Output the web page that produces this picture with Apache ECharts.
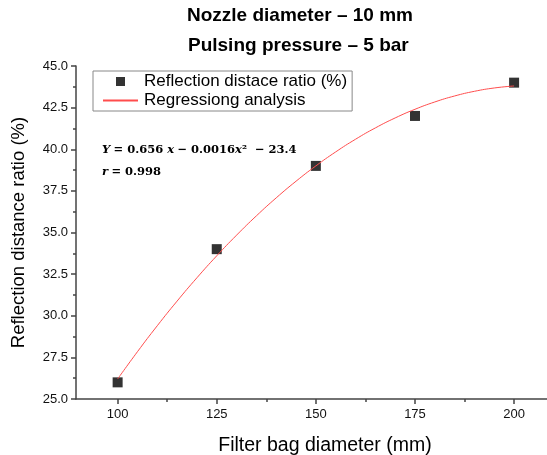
<!DOCTYPE html>
<html>
<head>
<meta charset="utf-8">
<script src="https://cdn.jsdelivr.net/npm/echarts@6/dist/echarts.min.js"></script>
<style>
  html, body { margin: 0; padding: 0; background: #fff; }
  #chart { width: 547px; height: 455px; }
</style>
</head>
<body>
<div id="chart"></div>
<script>
// measured points
var bagDiameter = [100, 125, 150, 175, 200];
var reflectionRatio = [26, 34, 39, 42, 44];

// regression curve
var fitX = [100, 105, 110, 115, 120, 125, 130, 135, 140, 145, 150,
            155, 160, 165, 170, 175, 180, 185, 190, 195, 200];
var fitY = [26.2, 27.84, 29.4, 30.88, 32.28, 33.6, 34.84, 36.0, 37.08, 38.08, 39.0,
            39.84, 40.6, 41.28, 41.88, 42.4, 42.84, 43.2, 43.48, 43.68, 43.8];

var xLabels = [100, 125, 150, 175, 200];
var xMinorTicks = [112.5, 137.5, 162.5, 187.5];

var font = 'Liberation Sans, Arial, sans-serif';
var serif = 'DejaVu Serif, serif';
var chart = echarts.init(document.getElementById('chart'));

var tickStyle = { color: '#444', width: 1.5 };
var eqRich = {
    v: { fontFamily: serif, fontStyle: 'italic', fontWeight: 'bold', fontSize: 11.5, fill: '#000' },
    n: { fontFamily: serif, fontWeight: 'bold', fontSize: 11.5, fill: '#000' }
};

var option = {
    animation: false,
    title: [{
        text: 'Nozzle diameter – 10 mm',
        left: 187, top: 6, padding: 0,
        textStyle: { fontFamily: font, fontSize: 19, fontWeight: 'bold', color: '#000' }
    }, {
        text: 'Pulsing pressure – 5 bar',
        left: 188, top: 36, padding: 0,
        textStyle: { fontFamily: font, fontSize: 19, fontWeight: 'bold', color: '#000' }
    }],
    grid: { left: 76, right: 0, top: 66, bottom: 56, outerBoundsMode: 'none' },
    legend: {
        orient: 'vertical',
        left: 93, top: 71,
        padding: [2, 5, 2, 9],
        itemGap: 2,
        itemWidth: 35,
        itemHeight: 9,
        borderColor: '#888',
        borderWidth: 1,
        textStyle: { fontFamily: font, fontSize: 17, color: '#000', padding: [0, 0, 0, 1] },
        data: [
            { name: 'Reflection distace ratio (%)', icon: 'path://M0,0h10v10h-10z' },
            { name: 'Regressiong analysis', itemStyle: { opacity: 0 } }
        ]
    },
    xAxis: [{
        type: 'value',
        min: 89.5, max: 208.3,
        name: 'Filter bag diameter (mm)',
        nameLocation: 'middle', nameGap: 37,
        nameTextStyle: { fontFamily: font, fontSize: 19.5, color: '#000', padding: [0, 0, 0, 27] },
        axisLine: { lineStyle: tickStyle },
        axisTick: { customValues: xLabels, length: 5, lineStyle: tickStyle },
        axisLabel: { customValues: xLabels, fontFamily: font, fontSize: 13, color: '#111', margin: 9 },
        splitLine: { show: false }
    }, {
        type: 'value',
        position: 'bottom',
        min: 89.5, max: 208.3,
        axisLine: { show: false },
        axisTick: { customValues: xMinorTicks, length: 3, lineStyle: tickStyle },
        axisLabel: { show: false },
        splitLine: { show: false }
    }],
    yAxis: {
        type: 'value',
        min: 25, max: 45, interval: 2.5,
        name: 'Reflection distance ratio (%)',
        nameLocation: 'middle', nameGap: 48,
        nameTextStyle: { fontFamily: font, fontSize: 18.5, color: '#000' },
        axisLine: { show: true, lineStyle: tickStyle },
        axisTick: { show: true, length: 5, lineStyle: tickStyle },
        minorTick: { show: true, splitNumber: 2, length: 3, lineStyle: tickStyle },
        axisLabel: {
            fontFamily: font, fontSize: 13, color: '#111', margin: 8,
            formatter: function (v) { return v.toFixed(1); }
        },
        splitLine: { show: false }
    },
    graphic: [{
        type: 'text',
        left: 102, top: 144,
        style: { text: '{v|Y} {n|= 0.656 }{v|x} {n|− 0.0016}{v|x}{n|²  − 23.4}', rich: eqRich }
    }, {
        type: 'text',
        left: 102, top: 166,
        style: { text: '{v|r} {n|= 0.998}', rich: eqRich }
    }],
    series: [{
        name: 'Regressiong analysis',
        type: 'line',
        smooth: true,
        showSymbol: false,
        symbol: 'none',
        lineStyle: { color: '#ff4d4d', width: 1 },
        itemStyle: { color: '#ff4d4d' },
        data: fitX.map(function (x, i) { return [x, fitY[i]]; })
    }, {
        name: 'Reflection distace ratio (%)',
        type: 'scatter',
        symbol: 'rect',
        symbolSize: 10,
        itemStyle: { color: '#000' },
        data: bagDiameter.map(function (x, i) { return [x, reflectionRatio[i]]; })
    }]
};

chart.setOption(option);
</script>
</body>
</html>
